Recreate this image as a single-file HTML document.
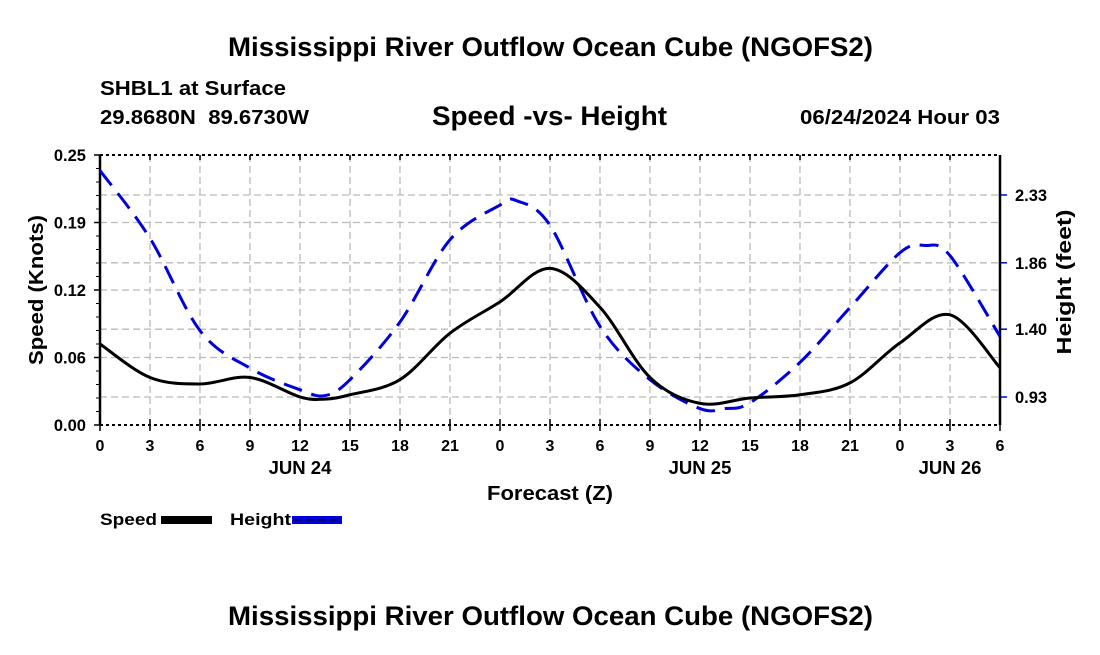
<!DOCTYPE html>
<html><head><meta charset="utf-8"><style>
body{margin:0;background:#fff;width:1100px;height:650px;overflow:hidden;font-family:"Liberation Sans",Arial,sans-serif}
svg text{font-family:"Liberation Sans",Arial,sans-serif;font-weight:bold;fill:#000}
</style></head><body>
<svg id="chart" width="1100" height="650" xmlns="http://www.w3.org/2000/svg">
<text x="228" y="56" font-size="27" textLength="645" lengthAdjust="spacingAndGlyphs">Mississippi River Outflow Ocean Cube (NGOFS2)</text>
<text x="100" y="95" font-size="20" textLength="186" lengthAdjust="spacingAndGlyphs">SHBL1 at Surface</text>
<text x="100" y="124" font-size="20" textLength="209" lengthAdjust="spacingAndGlyphs" xml:space="preserve">29.8680N  89.6730W</text>
<text x="432" y="125" font-size="27" textLength="235" lengthAdjust="spacingAndGlyphs">Speed -vs- Height</text>
<text x="800" y="124" font-size="20" textLength="200" lengthAdjust="spacingAndGlyphs">06/24/2024 Hour 03</text>
<g id="grid"></g>
<g id="axes"></g>
<g id="series"></g>
<text transform="translate(43,290) rotate(-90)" font-size="20" text-anchor="middle" textLength="150" lengthAdjust="spacingAndGlyphs">Speed (Knots)</text>
<text transform="translate(1071,282) rotate(-90)" font-size="20" text-anchor="middle" textLength="145" lengthAdjust="spacingAndGlyphs">Height (feet)</text>
<text x="487" y="500" font-size="20" textLength="126" lengthAdjust="spacingAndGlyphs">Forecast (Z)</text>
<g>
<text x="100" y="525" font-size="17" textLength="57" lengthAdjust="spacingAndGlyphs">Speed</text>
<rect x="161" y="516" width="51" height="8" fill="#000"/>
</g>
<g>
<text x="230" y="525" font-size="17" textLength="61" lengthAdjust="spacingAndGlyphs">Height</text>
<rect x="292" y="516" width="50" height="8" fill="#0000dd"/>
<line x1="294" y1="520" x2="340" y2="520" stroke="#000" stroke-width="1" stroke-dasharray="8,4"/>
</g>
<text x="228" y="625" font-size="27" textLength="645" lengthAdjust="spacingAndGlyphs">Mississippi River Outflow Ocean Cube (NGOFS2)</text>
</svg>
<script>
const hours = [0,3,6,9,12,13.5,15,18,21,24,27,30,33,36,39,42,45,48,51,54];
const speed = [0.075,0.044,0.038,0.044,0.026,0.024,0.028,0.042,0.085,0.114,0.145,0.109,0.044,0.020,0.025,0.028,0.039,0.076,0.102,0.053];
const heightHours = [0,3,6,9,12,13.5,15,18,21,24,25,27,30,33,36,37.5,39,42,45,48,49.5,51,54];
const height = [2.50,2.03,1.39,1.13,0.98,0.94,1.05,1.45,2.02,2.26,2.29,2.12,1.42,1.05,0.85,0.85,0.89,1.17,1.55,1.93,1.98,1.91,1.35];
const xTickLabels = ["0","3","6","9","12","15","18","21","0","3","6","9","12","15","18","21","0","3","6"];
const dayLabels = ["JUN 24","JUN 25","JUN 26"];
const dayHours = [12,36,51];
const leftTicks = [0,0.0625,0.125,0.1875,0.25];
const leftTickLabels = ["0.00","0.06","0.12","0.19","0.25"];
const rightTicks = [0.93,1.40,1.86,2.33];
const rightTickLabels = ["0.93","1.40","1.86","2.33"];

const X0=100,X1=1000,Y0=425,Y1=155;
const xs=h=>X0+(h/54)*(X1-X0);
const ys=v=>Y0-(v/0.25)*(Y0-Y1);
const yh=v=>397-(v-0.93)*(202/1.4);
const NS="http://www.w3.org/2000/svg";
function mk(tag,attrs,parent){const e=document.createElementNS(NS,tag);for(const k in attrs)e.setAttribute(k,attrs[k]);parent.appendChild(e);return e;}
const grid=document.getElementById('grid'),axes=document.getElementById('axes'),series=document.getElementById('series');
xTickLabels.forEach((l,i)=>{const x=xs(i*3);
 if(i>0&&i<xTickLabels.length-1){const g=mk('line',{x1:x,x2:x,y1:Y1,y2:Y0,stroke:'#bbb','stroke-width':1.3,'stroke-dasharray':'7,4'},grid);
 
 }
 mk('line',{x1:x,x2:x,y1:Y0-6,y2:Y0+6,stroke:'#000','stroke-width':1.5},axes);
 mk('line',{x1:x,x2:x,y1:Y1,y2:Y1+5,stroke:'#000','stroke-width':1.5},axes);
 const t=mk('text',{x:x,y:451,'font-size':16,'text-anchor':'middle'},axes);t.textContent=l;
 
 
});
dayLabels.forEach((l,i)=>{const t=mk('text',{x:xs(dayHours[i]),y:474,'font-size':18.5,'text-anchor':'middle'},axes);t.textContent=l;
 
 });
leftTicks.forEach((v,i)=>{const y=ys(v);
 if(i>0&&i<leftTicks.length-1){const g=mk('line',{x1:X0,x2:X1,y1:y,y2:y,stroke:'#bbb','stroke-width':1.3,'stroke-dasharray':'7,4'},grid);
 
 }
 mk('line',{x1:X0-6,x2:X0,y1:y,y2:y,stroke:'#000','stroke-width':1.5},axes);
 const t=mk('text',{x:X0-14,y:y+6,'font-size':16.5,'text-anchor':'end'},axes);t.textContent=leftTickLabels[i];
 
 
});
for(let k=1;k<20;k++){const y=Y0-k*(Y0-Y1)/20;mk('line',{x1:X0-4,x2:X0,y1:y,y2:y,stroke:'#000','stroke-width':1},axes);}
rightTicks.forEach((v,i)=>{const y=yh(v);
 const g=mk('line',{x1:X0,x2:X1,y1:y,y2:y,stroke:'#bbb','stroke-width':1.3,'stroke-dasharray':'7,4'},grid);
 
 
 mk('line',{x1:X1,x2:X1+7,y1:y,y2:y,stroke:'#0000dd','stroke-width':1.5},axes);
 const t=mk('text',{x:X1+15,y:y+6,'font-size':16.5},axes);t.textContent=rightTickLabels[i];
 
 
});
mk('line',{x1:X0,x2:X1,y1:Y1,y2:Y1,stroke:'#000','stroke-width':2,'stroke-dasharray':'3,3'},axes);
mk('line',{x1:X0,x2:X1,y1:Y0,y2:Y0,stroke:'#000','stroke-width':2,'stroke-dasharray':'3,3'},axes);
mk('line',{x1:X0,x2:X0,y1:Y1,y2:Y0,stroke:'#000','stroke-width':2.5},axes);
mk('line',{x1:X1,x2:X1,y1:Y1,y2:Y0,stroke:'#000','stroke-width':2.5},axes);
function smooth(pts){let d=`M${pts[0][0]},${pts[0][1]}`;
 for(let i=0;i<pts.length-1;i++){const p0=pts[i-1]||pts[i],p1=pts[i],p2=pts[i+1],p3=pts[i+2]||p2;
  const c1=[p1[0]+(p2[0]-p0[0])/6,p1[1]+(p2[1]-p0[1])/6],c2=[p2[0]-(p3[0]-p1[0])/6,p2[1]-(p3[1]-p1[1])/6];
  d+=`C${c1[0]},${c1[1]} ${c2[0]},${c2[1]} ${p2[0]},${p2[1]}`;}return d;}
const hp=mk('path',{d:smooth(heightHours.map((h,i)=>[xs(h),yh(height[i])])),fill:'none',stroke:'#0000dd','stroke-width':3,'stroke-dasharray':'19,10'},series);


const sp=mk('path',{d:smooth(hours.map((h,i)=>[xs(h),ys(speed[i])])),fill:'none',stroke:'#000','stroke-width':3},series);


</script>
</body></html>
